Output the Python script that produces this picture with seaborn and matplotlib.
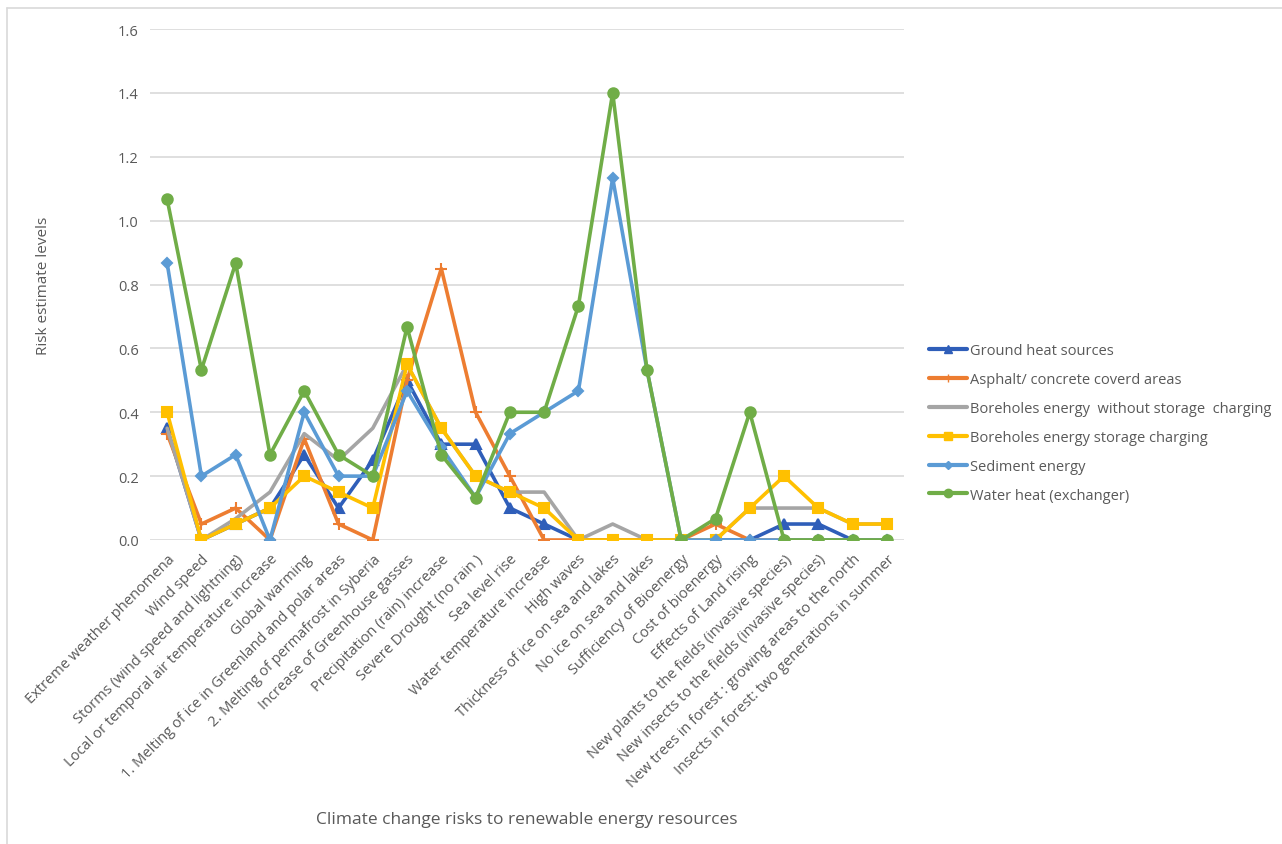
import numpy as np
import pandas as pd
import matplotlib
matplotlib.use('Agg')
import matplotlib.pyplot as plt
import seaborn as sns
from matplotlib.lines import Line2D

categories = [
    'Extreme weather phenomena',
    'Wind speed',
    'Storms (wind speed and lightning)',
    'Local or temporal air temperature increase',
    'Global warming',
    '1. Melting of ice in Greenland and polar areas',
    '2. Melting of permafrost in Syberia',
    'Increase of Greenhouse gasses',
    'Precipitation (rain) increase',
    'Severe Drought (no rain )',
    'Sea level rise',
    'Water temperature increase',
    'High waves',
    'Thickness of ice on sea and lakes',
    'No ice on sea and lakes',
    'Sufficiency of Bioenergy',
    'Cost of bioenergy',
    'Effects of Land rising',
    'New plants to the fields (invasive species)',
    'New insects to the fields (invasive species)',
    'New trees in forest : growing areas to the north',
    'Insects in forest: two generations in summer',
]

ground_heat = [0.35, 0.0, 0.05, 0.1, 0.267, 0.1, 0.25, 0.5, 0.3, 0.3, 0.1, 0.05,
               0.0, 0.0, 0.0, 0.0, 0.0, 0.0, 0.05, 0.05, 0.0, 0.0]
asphalt = [0.333, 0.05, 0.1, 0.0, 0.317, 0.05, 0.0, 0.5, 0.85, 0.4, 0.2, 0.0,
           0.0, 0.0, 0.0, 0.0, 0.05, 0.0, 0.0, 0.0, 0.0, 0.0]
boreholes_no_storage = [0.35, 0.0, 0.067, 0.15, 0.333, 0.25, 0.35, 0.55, 0.35, 0.2, 0.15, 0.15,
                        0.0, 0.05, 0.0, 0.0, 0.0, 0.1, 0.1, 0.1, 0.05, 0.05]
boreholes_storage = [0.4, 0.0, 0.05, 0.1, 0.2, 0.15, 0.1, 0.55, 0.35, 0.2, 0.15, 0.1,
                     0.0, 0.0, 0.0, 0.0, 0.0, 0.1, 0.2, 0.1, 0.05, 0.05]
sediment = [0.867, 0.2, 0.267, 0.0, 0.4, 0.2, 0.2, 0.467, 0.29, 0.133, 0.333, 0.4,
            0.467, 1.133, 0.533, 0.0, 0.0, 0.0, 0.0, 0.0, 0.0, 0.0]
water_heat = [1.067, 0.533, 0.867, 0.267, 0.467, 0.267, 0.2, 0.667, 0.267, 0.133, 0.4, 0.4,
              0.733, 1.4, 0.533, 0.0, 0.067, 0.4, 0.0, 0.0, 0.0, 0.0]

series_names = ['Ground heat sources', 'Asphalt/ concrete coverd areas',
                'Boreholes energy  without storage  charging', 'Boreholes energy storage charging',
                'Sediment energy', 'Water heat (exchanger)']
series_values = [ground_heat, asphalt, boreholes_no_storage, boreholes_storage, sediment, water_heat]
colors = ['#2F5EB9', '#ED7D31', '#A5A5A5', '#FFC000', '#5B9BD5', '#70AD47']
markers = ['^', '+', '', 's', 'D', 'o']
msizes = [7, 8, 0, 7, 5, 7.5]

rows = []
for name, vals in zip(series_names, series_values):
    for i, v in enumerate(vals):
        rows.append({'pos': i, 'value': v, 'series': name})
df = pd.DataFrame(rows)

sns.set_style('white')
plt.rcParams['font.family'] = ['Open Sans', 'DejaVu Sans']
text_col = '#595959'

fig = plt.figure(figsize=(12.82, 8.45), dpi=100)
ax = fig.add_axes([150 / 1282, 1 - 541 / 845, 754 / 1282, 511 / 845])

for k, name in enumerate(series_names):
    sub = df[df['series'] == name]
    sns.lineplot(data=sub, x='pos', y='value', ax=ax, color=colors[k], linewidth=2.6,
                 marker=markers[k] if markers[k] else None, markersize=msizes[k],
                 markeredgecolor=colors[k], markeredgewidth=1.5, zorder=3 + k, legend=False)

ax.set_xlim(-0.5, len(categories) - 0.5)
ax.set_ylim(0, 1.6)
ax.set_yticks(np.arange(0, 1.61, 0.2))
ax.set_yticklabels([f'{t:.1f}' for t in np.arange(0, 1.61, 0.2)], fontsize=10.5, color=text_col)
ax.set_xticks(range(len(categories)))
ax.set_xticklabels(categories, rotation=45, ha='right', rotation_mode='anchor',
                   fontsize=10.5, color=text_col)
ax.tick_params(axis='both', length=0, pad=8)
ax.yaxis.grid(True, color='#D9D9D9', linewidth=1.2, zorder=0)
ax.xaxis.grid(False)
ax.set_axisbelow(True)
for s in ax.spines.values():
    s.set_visible(False)
ax.set_xlabel('Climate change risks to renewable energy resources', fontsize=12.5,
              color=text_col, labelpad=14)
ax.set_ylabel('Risk estimate levels', fontsize=11, color=text_col, labelpad=48)
ax.xaxis.set_label_coords(0.5, -0.53)

handles = [Line2D([0], [0], color=colors[k], linewidth=3,
                  marker=markers[k] if markers[k] else None, markersize=msizes[k] * 0.8,
                  markeredgecolor=colors[k]) for k in range(len(series_names))]
fig.legend(handles, series_names, loc='upper left', bbox_to_anchor=(922 / 1282, 1 - 337 / 845),
           frameon=False, fontsize=10.5, labelcolor=text_col, handlelength=2.6,
           handletextpad=0.2, labelspacing=0.95, borderpad=0)

# chart border remnants
fig.add_artist(Line2D([7 / 1282, 7 / 1282], [0, 1 - 9 / 845], color='#D9D9D9', linewidth=1.2))
fig.add_artist(Line2D([7 / 1282, 1], [1 - 9 / 845, 1 - 9 / 845], color='#D9D9D9', linewidth=1.2))

plt.savefig('out.png', dpi=100)
